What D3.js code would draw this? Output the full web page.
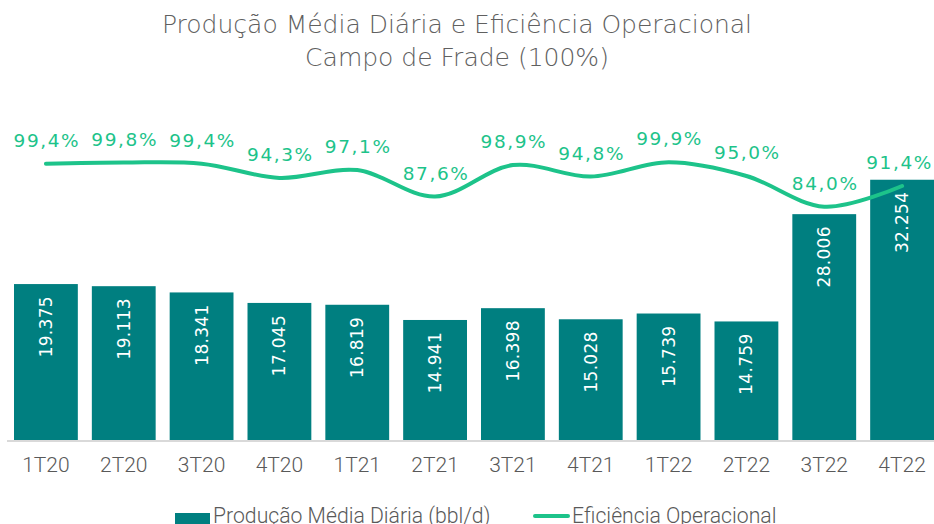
<!DOCTYPE html>
<html>
<head>
<meta charset="utf-8">
<script src="https://cdn.jsdelivr.net/npm/d3@7"></script>
<style>
  body { margin: 0; background: #fff; }
  #chart { width: 934px; height: 524px; }
  text { font-family: "DejaVu Sans", sans-serif; }
</style>
</head>
<body>
<div id="chart"></div>
<script>
  /* DATA */
  const quarters = ["1T20","2T20","3T20","4T20","1T21","2T21","3T21","4T21","1T22","2T22","3T22","4T22"];
  const production = [19375, 19113, 18341, 17045, 16819, 14941, 16398, 15028, 15739, 14759, 28006, 32254];
  const efficiency = [99.4, 99.8, 99.4, 94.3, 97.1, 87.6, 98.9, 94.8, 99.9, 95.0, 84.0, 91.4];

  const width = 934, height = 524;
  const barColor = "#007f80";
  const lineColor = "#1dc38a";
  const grey = "#595959";
  const uiFont = "Roboto, 'Open Sans', sans-serif";

  const svg = d3.select("#chart").append("svg")
    .attr("width", width)
    .attr("height", height);

  /* SCALES */
  const xScale = d3.scaleBand()
    .domain(quarters)
    .range([7, 941])
    .paddingInner(0.18)
    .paddingOuter(0.09);

  const yScale = d3.scaleLinear()
    .domain([0, 40000])
    .range([441, 117]);

  const y2Scale = d3.scaleLinear()
    .domain([0, 100])
    .range([441, 162]);

  const fmtBar = d3.formatLocale({decimal: ",", thousands: ".", grouping: [3], currency: ["", ""]}).format(",");
  const fmtPct = d => d.toFixed(1).replace(".", ",") + "%";

  /* TITLE */
  const title = svg.append("text")
    .attr("x", 457)
    .attr("y", 33)
    .attr("text-anchor", "middle")
    .attr("fill", "#606060")
    .style("font-family", "'DejaVu Sans', sans-serif")
    .style("font-weight", 200)
    .style("font-size", "25px");
  title.append("tspan").attr("x", 457).text("Produção Média Diária e Eficiência Operacional");
  title.append("tspan").attr("x", 457).attr("dy", 33).text("Campo de Frade (100%)");

  /* BARS */
  svg.selectAll("rect.bar")
    .data(production)
    .enter()
    .append("rect")
      .attr("class", "bar")
      .attr("x", (d, i) => xScale(quarters[i]))
      .attr("y", d => yScale(d))
      .attr("width", xScale.bandwidth())
      .attr("height", d => yScale(0) - yScale(d))
      .attr("fill", barColor);

  /* X AXIS */
  const xAxis = svg.append("g")
    .attr("transform", `translate(0,${yScale(0)})`)
    .call(d3.axisBottom(xScale).tickSize(0));
  xAxis.select(".domain").attr("stroke", "#d9d9d9").attr("stroke-width", 2)
    .attr("d", "M7,0H934");
  xAxis.selectAll("text")
    .attr("dy", null)
    .attr("y", 31)
    .attr("fill", grey)
    .style("font-family", uiFont)
    .style("font-weight", 300)
    .style("font-size", "21px");

  /* BAR LABELS */
  svg.selectAll("text.barLabel")
    .data(production)
    .enter()
    .append("text")
      .attr("class", "barLabel")
      .attr("transform", (d, i) => `translate(${xScale(quarters[i]) + xScale.bandwidth() / 2 + 6},${yScale(d) + 12}) rotate(-90)`)
      .attr("text-anchor", "end")
      .attr("fill", "#ffffff")
      .style("font-size", "17px")
      .style("letter-spacing", "0.3px")
      .text(d => fmtBar(d));

  /* LINE */
  const line = d3.line()
    .x((d, i) => xScale(quarters[i]) + xScale.bandwidth() / 2)
    .y(d => y2Scale(d))
    .curve(d3.curveCatmullRom.alpha(0.5));

  svg.append("path")
    .datum(efficiency)
    .attr("d", line)
    .attr("fill", "none")
    .attr("stroke", lineColor)
    .attr("stroke-width", 4)
    .attr("stroke-linecap", "round");

  const pctLabels = svg.selectAll("text.pctLabel")
    .data(efficiency)
    .enter()
    .append("text")
      .attr("class", "pctLabel")
      .attr("x", (d, i) => xScale(quarters[i]) + xScale.bandwidth() / 2 + 1)
      .attr("y", d => y2Scale(d) - 17)
      .attr("text-anchor", "middle")
      .attr("fill", lineColor)
      .style("font-size", "18.5px")
      .style("letter-spacing", "1.6px")
      .text(d => fmtPct(d));

  // keep the last label inside the page
  pctLabels.each(function() {
    const b = this.getBBox();
    if (b.x + b.width > width - 1) {
      d3.select(this).attr("x", +d3.select(this).attr("x") - (b.x + b.width - width + 1));
    }
  });

  /* LEGEND */
  const legend = svg.append("g");
  legend.append("rect")
    .attr("x", 175).attr("y", 513)
    .attr("width", 35).attr("height", 11)
    .attr("fill", barColor);
  legend.append("text")
    .attr("x", 213).attr("y", 523)
    .attr("fill", grey)
    .style("font-family", uiFont)
    .style("font-weight", 300)
    .style("font-size", "21.2px")
    .text("Produção Média Diária (bbl/d)");
  legend.append("line")
    .attr("x1", 535).attr("x2", 568)
    .attr("y1", 516).attr("y2", 516)
    .attr("stroke", lineColor)
    .attr("stroke-width", 4)
    .attr("stroke-linecap", "round");
  legend.append("text")
    .attr("x", 572).attr("y", 523)
    .attr("fill", grey)
    .style("font-family", uiFont)
    .style("font-weight", 300)
    .style("font-size", "21.2px")
    .text("Eficiência Operacional");
</script>
</body>
</html>
